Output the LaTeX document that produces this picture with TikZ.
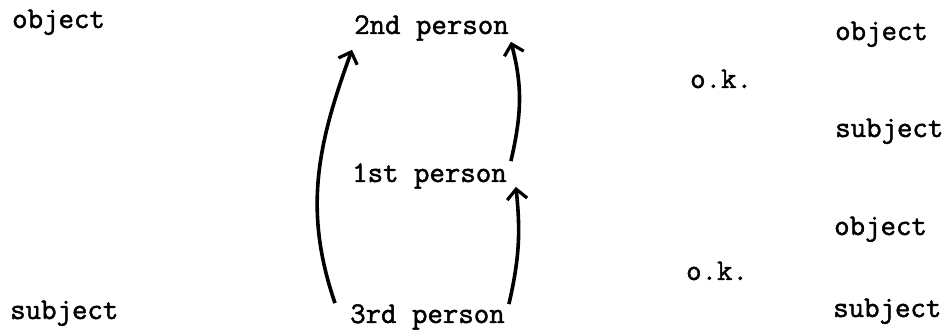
\documentclass[tikz,border=0pt]{standalone}
\usepackage{fontspec}
\newfontfamily\typefont{Latin Modern Mono}[FakeBold=1.6]
\usetikzlibrary{arrows.meta}
\begin{document}
\begin{tikzpicture}[x=1pt,y=-1pt,
  word/.style={anchor=base west,inner sep=2pt,text=inkcolor,
    font=\fontsize{30}{36}\selectfont\typefont},
  link/.style={draw=inkcolor,line width=3.6pt,
    -{Straight Barb[length=10pt,width=20pt,line width=3.2pt]}}]
\definecolor{inkcolor}{RGB}{0,0,0}
\definecolor{papercolor}{RGB}{255,255,255}
\useasboundingbox [fill=papercolor] (0,0) rectangle (946,336);
\node [word] (objL) at (10,28) {object};
\node [word] (subjL) at (8,319) {subject};
\node [word] (p2) at (352,34) {2nd person};
\node [word] (p1) at (350,182) {1st person};
\node [word] (p3) at (348,323) {3rd person};
\node [word] (objA) at (833,40) {object};
\node [word] (okA) at (688,88) {o.k.};
\node [word] (subjA) at (833,137) {subject};
\node [word] (objB) at (832,235) {object};
\node [word] (okB) at (684,280) {o.k.};
\node [word] (subjB) at (831,317) {subject};
\draw [link] ([shift={(-13pt,-1pt)}]p3.north west) to [out=109,in=-110] ([yshift=-7pt]p2.south west);
\draw [link] ([xshift=2pt]p1.north east) to [out=77,in=-75] ([yshift=1pt]p2.south east);
\draw [link] ([shift={(2pt,-2pt)}]p3.north east) to [out=77,in=-84] ([shift={(7pt,4pt)}]p1.south east);
\end{tikzpicture}
\end{document}
